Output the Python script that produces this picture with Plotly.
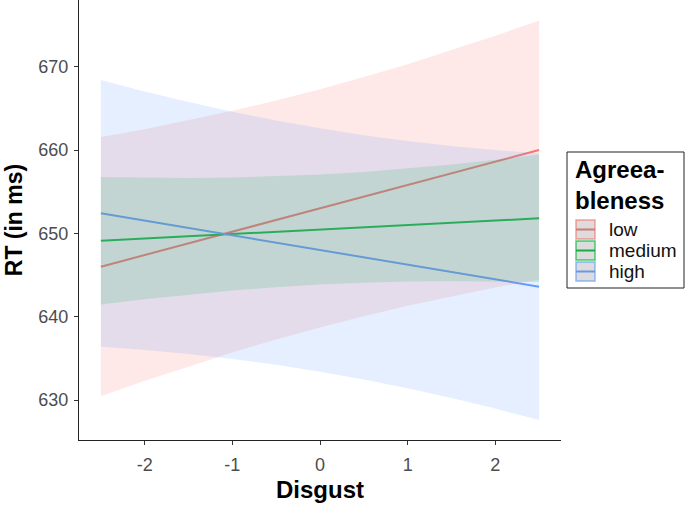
import plotly.graph_objects as go

# ---- data ----
disgust = [-2.5, -2.0, -1.5, -1.0, -0.5, 0.0, 0.5, 1.0, 1.5, 2.0, 2.5]

groups = ["low", "medium", "high"]

low_fit = [646.0, 647.4, 648.8, 650.2, 651.6, 653.0, 654.4, 655.8, 657.2, 658.6, 660.0]
low_upper = [661.55, 662.5, 663.6, 664.7, 665.95, 667.3, 668.75, 670.3, 672.0, 673.7, 675.55]
low_lower = [630.45, 632.3, 634.0, 635.7, 637.25, 638.7, 640.05, 641.3, 642.4, 643.5, 644.45]

medium_fit = [649.1, 649.37, 649.64, 649.91, 650.18, 650.45, 650.72, 650.99, 651.26, 651.53, 651.8]
medium_upper = [656.75, 656.66, 656.64, 656.69, 656.83, 657.05, 657.37, 657.77, 658.26, 658.82, 659.45]
medium_lower = [641.45, 642.08, 642.64, 643.13, 643.54, 643.85, 644.08, 644.21, 644.26, 644.24, 644.15]

high_fit = [652.4, 651.52, 650.64, 649.76, 648.88, 648.0, 647.12, 646.24, 645.36, 644.48, 643.6]
high_upper = [668.4, 667.03, 665.76, 664.59, 663.54, 662.6, 661.78, 661.07, 660.48, 659.99, 659.6]
high_lower = [636.4, 636.01, 635.52, 634.93, 634.22, 633.4, 632.46, 631.41, 630.24, 628.97, 627.6]

x_ticks = [-2, -1, 0, 1, 2]
y_ticks = [630, 640, 650, 660, 670]

fits = {"low": low_fit, "medium": medium_fit, "high": high_fit}
uppers = {"low": low_upper, "medium": medium_upper, "high": high_upper}
lowers = {"low": low_lower, "medium": medium_lower, "high": high_lower}

line_colors = {"low": "#F8766D", "medium": "#00BA38", "high": "#619CFF"}
fill_colors = {"low": "rgba(248,118,109,0.16)",
               "medium": "rgba(0,186,56,0.16)",
               "high": "rgba(97,156,255,0.16)"}

FONT = "Liberation Sans, Arial, sans-serif"

fig = go.Figure()

# lines first (ribbons drawn on top, as in reference)
for g in groups:
    fig.add_trace(go.Scatter(x=disgust, y=fits[g], mode="lines",
                             line=dict(color=line_colors[g], width=2),
                             showlegend=False, hoverinfo="skip"))

for g in groups:
    xs = disgust + disgust[::-1]
    ys = uppers[g] + lowers[g][::-1]
    fig.add_trace(go.Scatter(x=xs, y=ys, mode="lines", fill="toself",
                             fillcolor=fill_colors[g], line=dict(width=0),
                             showlegend=False, hoverinfo="skip"))

# geometry helpers (pixel -> paper)
L, R, T, B = 79, 561, 0, 440
W, H = 685, 507


def px(xp):
    return (xp - L) / (R - L)


def py(yp):
    return (B - yp) / (B - T)


shapes = []
annotations = []

# legend box
shapes.append(dict(type="rect", xref="paper", yref="paper",
                   x0=px(567), x1=px(684), y0=py(288), y1=py(152),
                   line=dict(color="#222222", width=1), fillcolor="white"))
annotations.append(dict(xref="paper", yref="paper", x=px(573), y=py(154),
                        xanchor="left", yanchor="top", showarrow=False,
                        align="left", text="<b>Agreea-<br>bleness</b>",
                        font=dict(family=FONT, size=24, color="black")))

key_tops = [220, 241, 262]
key_border = {"low": "rgba(248,118,109,0.7)", "medium": "rgba(0,186,56,0.7)",
              "high": "rgba(97,156,255,0.7)"}
key_line = {"low": "#D07A72", "medium": "#1DAA45", "high": "#6A98E8"}
for g, kt in zip(groups, key_tops):
    shapes.append(dict(type="rect", xref="paper", yref="paper",
                       x0=px(576), x1=px(595), y0=py(kt + 19), y1=py(kt),
                       line=dict(color=key_border[g], width=1.5),
                       fillcolor="#DCDCDC"))
    shapes.append(dict(type="line", xref="paper", yref="paper",
                       x0=px(576), x1=px(595), y0=py(kt + 9.5), y1=py(kt + 9.5),
                       line=dict(color=key_line[g], width=2)))
    annotations.append(dict(xref="paper", yref="paper", x=px(607), y=py(kt + 9.5),
                            xanchor="left", yanchor="middle", showarrow=False,
                            text=g, font=dict(family=FONT, size=19, color="#111111")))

fig.update_layout(
    width=W, height=H,
    margin=dict(l=L, r=W - R, t=T, b=H - B, autoexpand=False),
    paper_bgcolor="white", plot_bgcolor="white",
    showlegend=False,
    shapes=shapes, annotations=annotations,
    font=dict(family=FONT),
    xaxis=dict(range=[-2.75, 2.75], tickvals=x_ticks, ticktext=[str(v) for v in x_ticks],
               automargin=False,
               showgrid=False, zeroline=False, showline=True, linecolor="#222222",
               linewidth=1, ticks="outside", ticklen=4, tickcolor="#333333",
               ticklabelstandoff=4,
               tickfont=dict(family=FONT, size=18, color="#4D4D4D"),
               title=dict(text="<b>Disgust</b>", standoff=7,
                          font=dict(family=FONT, size=24, color="black"))),
    yaxis=dict(range=[625.2, 678.0], tickvals=y_ticks, ticktext=[str(v) for v in y_ticks],
               automargin=False,
               showgrid=False, zeroline=False, showline=True, linecolor="#222222",
               linewidth=1, ticks="outside", ticklen=4, tickcolor="#333333",
               ticklabelstandoff=2,
               tickfont=dict(family=FONT, size=18, color="#4D4D4D"),
               title=dict(text="<b>RT (in ms)</b>", standoff=9,
                          font=dict(family=FONT, size=23, color="black"))),
)

fig.write_html("out.html",
               config={"displayModeBar": False},
               post_script="document.body.style.margin='0px';document.body.style.overflow='hidden';")
